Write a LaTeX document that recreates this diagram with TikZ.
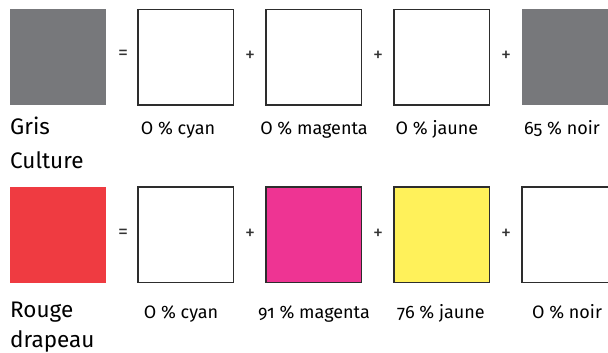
\documentclass[tikz,border=0pt]{standalone}
\usepackage{fontspec}
\setmainfont{Fira Sans}[Numbers=OldStyle]
\definecolor{grisculture}{RGB}{119,120,123}
\definecolor{rougedrapeau}{RGB}{239,59,65}
\definecolor{inkmagenta}{RGB}{238,52,147}
\definecolor{inkjaune}{RGB}{255,241,90}
\definecolor{boxline}{RGB}{45,45,45}
\begin{document}
\begin{tikzpicture}[x=1pt,y=-1pt,
  swatch/.style={anchor=north west,minimum size=95.5pt,inner sep=0pt,outer sep=0pt},
  inkbox/.style={swatch,draw=boxline,line width=1.2pt},
  opsign/.style={inner sep=0pt,text=black!80,font=\fontsize{20}{20}\selectfont},
  colourname/.style={anchor=base west,inner sep=0pt,align=left,font=\fontsize{22.5}{34}\selectfont},
  sharelabel/.style={anchor=base,inner sep=0pt,font=\fontsize{18}{18}\selectfont}]
\useasboundingbox (0,0) rectangle (608,353);
\clip (0,0) rectangle (608,353);

% Gris Culture
\node[swatch,fill=grisculture] (G0) at (10,9.5) {};
\node[inkbox,fill=white] (G1) at (138,9.5) {};
\node[inkbox,fill=white] (G2) at (266,9.5) {};
\node[inkbox,fill=white] (G3) at (394,9.5) {};
\node[swatch,fill=grisculture] (G4) at (522,9.5) {};

\node[opsign] (Geq) at (123,55) {=};
\node[opsign] (Gp1) at (250,56) {+};
\node[opsign] (Gp2) at (378,56) {+};
\node[opsign] (Gp3) at (506,56) {+};

% base of the last line
\node[colourname] (Gname) at (10,168) {Gris\\Culture};
\node[sharelabel] (Gc) at (178,134) {O \% cyan};
\node[sharelabel] (Gm) at (314,134) {O \% magenta};
\node[sharelabel] (Gy) at (437,134) {O \% jaune};
\node[sharelabel] (Gk) at (562,134) {65 \% noir};

% Rouge drapeau
\node[swatch,fill=rougedrapeau] (R0) at (10,187) {};
\node[inkbox,fill=white] (R1) at (138,187) {};
\node[inkbox,fill=inkmagenta] (R2) at (266,187) {};
\node[inkbox,fill=inkjaune] (R3) at (394,187) {};
\node[inkbox,fill=white] (R4) at (522,187) {};

\node[opsign] (Req) at (123,234) {=};
\node[opsign] (Rp1) at (250,234) {+};
\node[opsign] (Rp2) at (378,234) {+};
\node[opsign] (Rp3) at (506,234) {+};

\node[colourname,font=\fontsize{22.5}{30}\selectfont] (Rname) at (10,347) {Rouge\\drapeau};
\node[sharelabel] (Rc) at (181,318) {O \% cyan};
\node[sharelabel] (Rm) at (314,318) {91 \% magenta};
\node[sharelabel] (Ry) at (441,318) {76 \% jaune};
\node[sharelabel] (Rk) at (567,318) {O \% noir};
\end{tikzpicture}
\end{document}
